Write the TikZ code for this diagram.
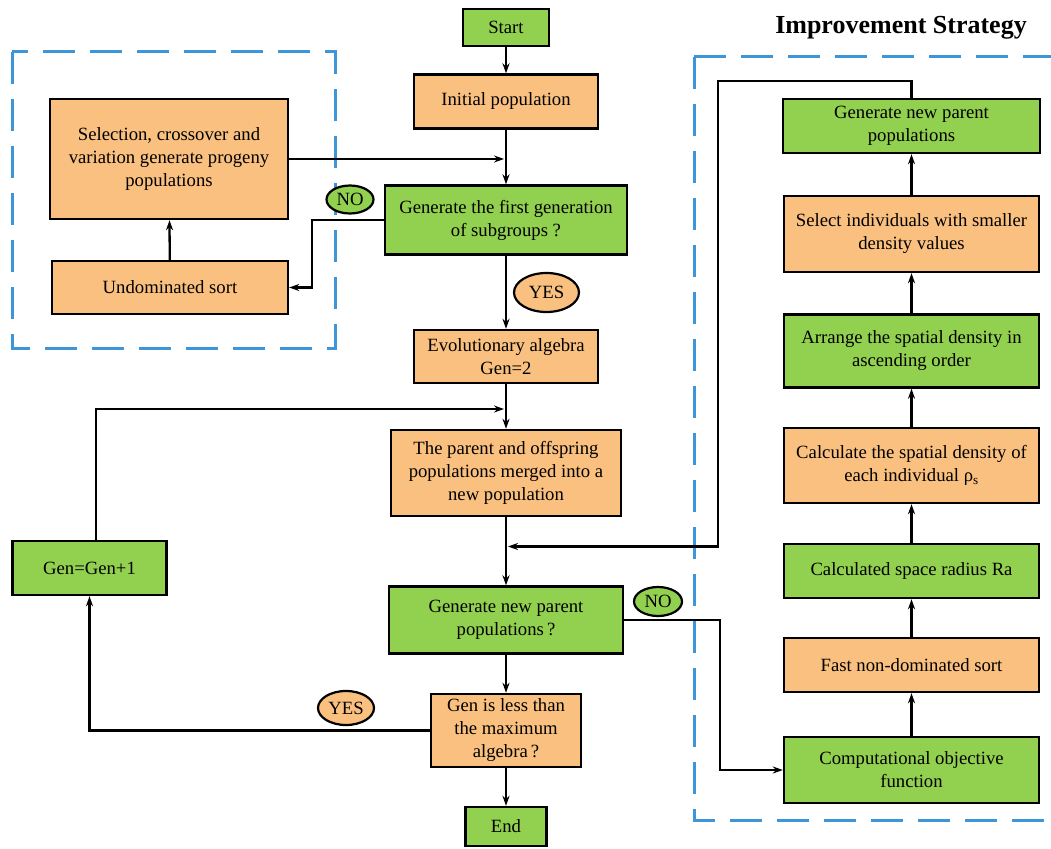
\documentclass[tikz,border=0pt]{standalone}
\usepackage{fontspec}
\setmainfont{Liberation Serif}
\usetikzlibrary{arrows.meta,shapes.geometric}
\definecolor{boxorange}{RGB}{250,192,128}
\definecolor{boxgreen}{RGB}{146,208,80}
\definecolor{dashblue}{RGB}{60,150,215}
\tikzset{
  box/.style={draw=black, line width=2.4pt, inner sep=0pt, align=center},
  orangebox/.style={box, fill=boxorange},
  greenbox/.style={box, fill=boxgreen},
  oval/.style={ellipse, draw=black, line width=2.2pt, inner sep=0pt},
  arr/.style={line width=2.3pt, -{Stealth[length=10pt,width=7pt]}},
  frame/.style={dashblue, line width=3pt, dash pattern=on 32pt off 15pt}
}
\begin{document}
\begin{tikzpicture}[x=1pt, y=-1pt, font=\fontsize{18.7}{23}\selectfont]
    \useasboundingbox (0, 0) rectangle (1051, 848);
    % dashed frames
    \draw[frame] (12, 52) rectangle (335, 348);
    \draw[frame] (694, 57) rectangle (1075, 820);
    \node (title) at (901, 28) {\fontsize{26}{30}\selectfont\bfseries Improvement Strategy};
    % main column
    \node[greenbox, minimum width=86pt, minimum height=37pt] (start) at (506, 27.5) {Start};
    \node[orangebox, minimum width=184pt, minimum height=54pt] (init) at (506, 101.5) {Initial population};
    \node[greenbox, minimum width=242pt, minimum height=69pt] (first) at (506, 220) {Generate the first generation\\of subgroups ?};
    \node[orangebox, minimum width=184pt, minimum height=53pt] (evo) at (506, 356.5) {Evolutionary algebra\\Gen=2};
    \node[orangebox, minimum width=230pt, minimum height=86pt] (merge) at (506, 473) {The parent and offspring\\populations merged into a\\new population};
    \node[greenbox, minimum width=234pt, minimum height=67pt] (gennew) at (506, 620) {Generate new parent\\populations\,?};
    \node[orangebox, minimum width=150pt, minimum height=73pt] (less) at (506, 730.5) {Gen is less than\\the maximum\\algebra\,?};
    \node[greenbox, minimum width=81pt, minimum height=39pt] (stop) at (506, 826.5) {End};
    % left side
    \node[orangebox, minimum width=238pt, minimum height=120pt] (sel) at (169, 159) {Selection, crossover and\\variation generate progeny\\populations};
    \node[orangebox, minimum width=236pt, minimum height=53pt] (undom) at (170, 287.5) {Undominated sort};
    \node[greenbox, minimum width=154pt, minimum height=54pt] (incr) at (89.5, 568) {Gen=Gen+1};
    % improvement strategy column
    \node[greenbox, minimum width=257pt, minimum height=54pt] (rgen) at (911.5, 126) {Generate new parent\\populations};
    \node[orangebox, minimum width=255pt, minimum height=76pt] (rsel) at (911.5, 234) {Select individuals with smaller\\density values};
    \node[greenbox, minimum width=255pt, minimum height=73pt] (rarr) at (911.5, 351) {Arrange the spatial density in\\ascending order};
    \node[orangebox, minimum width=255pt, minimum height=75pt] (rcalc) at (911.5, 465.5) {Calculate the spatial density of\\each individual ρ\textsubscript{s}};
    \node[greenbox, minimum width=255pt, minimum height=54pt] (rrad) at (911.5, 571) {Calculated space radius Ra};
    \node[orangebox, minimum width=255pt, minimum height=54pt] (rfast) at (911.5, 665) {Fast non-dominated sort};
    \node[greenbox, minimum width=255pt, minimum height=66pt] (robj) at (911.5, 770) {Computational objective\\function};
    % decision labels
    \node[oval, fill=boxgreen, minimum width=47pt, minimum height=28pt] (no1) at (350, 199.5) {NO};
    \node[oval, fill=boxorange, minimum width=65pt, minimum height=39pt] (yes1) at (546.5, 292.5) {YES};
    \node[oval, fill=boxgreen, minimum width=48pt, minimum height=29pt] (no2) at (658, 601.5) {NO};
    \node[oval, fill=boxorange, minimum width=56pt, minimum height=34pt] (yes2) at (346, 708) {YES};
    % joints on the main line
    \coordinate (j1) at (504, 159);
    \coordinate (j2) at (504, 409);
    \coordinate (j3) at (508, 546.5);
    % connectors
    \draw[arr] (start) -- (init);
    \draw[arr] (init) -- (first);
    \draw[arr] (sel.east) -- (j1);
    \draw[arr] (first.west) -- ++(-72, 0) |- (undom.east);
    \draw[arr] (undom) -- (sel);
    \draw[arr] (first) -- (evo);
    \draw[arr] (evo) -- (merge);
    \draw[arr] ([xshift=6.5pt]incr.north) |- (j2);
    \draw[arr] (merge) -- (gennew);
    \draw[arr] (gennew) -- (less);
    \draw[arr] (less) -- (stop);
    \draw[arr] (less.west) -| (incr.south);
    \draw[arr] (gennew.east) -- ++(96, 0) |- (robj.west);
    \draw[arr] (robj) -- (rfast);
    \draw[arr] (rfast) -- (rrad);
    \draw[arr] (rrad) -- (rcalc);
    \draw[arr] (rcalc) -- (rarr);
    \draw[arr] (rarr) -- (rsel);
    \draw[arr] (rsel) -- (rgen);
    \draw[arr] (rgen.north) |- (718, 81) |- (j3);
\end{tikzpicture}
\end{document}
